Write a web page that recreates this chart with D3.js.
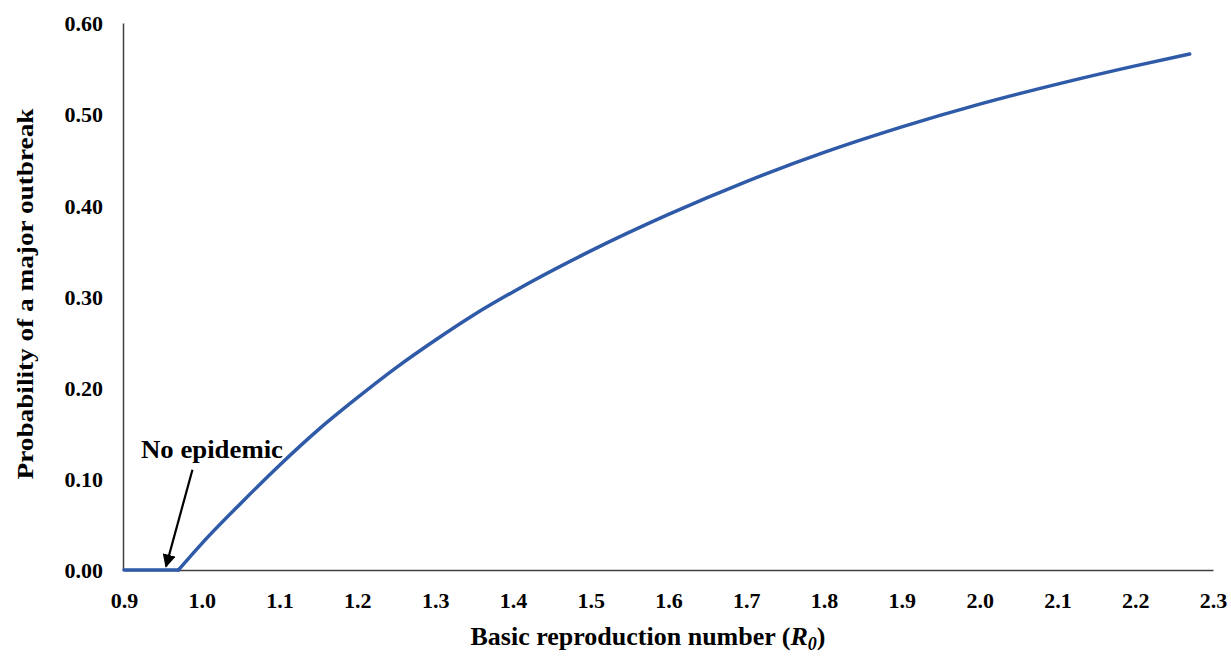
<!DOCTYPE html>
<html>
<head>
<meta charset="utf-8">
<script src="https://cdn.jsdelivr.net/npm/d3@7"></script>
<style>
  html, body { margin: 0; padding: 0; background: #fff; }
  svg { display: block; }
  text { font-family: "Liberation Serif", "Times New Roman", serif; font-weight: bold; fill: #000; }
</style>
</head>
<body>
<svg id="chart" width="1231" height="660"></svg>
<script>
// Data
const r0Values = [0.90, 0.97, 1.00, 1.05, 1.10, 1.15, 1.20, 1.25, 1.30, 1.35, 1.40, 1.50, 1.60, 1.70, 1.80, 1.90, 2.00, 2.10, 2.20, 2.27];
const probValues = [0.000, 0.000, 0.029, 0.073, 0.115, 0.154, 0.189, 0.222, 0.252, 0.280, 0.305, 0.350, 0.390, 0.426, 0.458, 0.486, 0.511, 0.533, 0.553, 0.566];
const xTicks = [0.9, 1.0, 1.1, 1.2, 1.3, 1.4, 1.5, 1.6, 1.7, 1.8, 1.9, 2.0, 2.1, 2.2, 2.3];
const yTicks = [0.00, 0.10, 0.20, 0.30, 0.40, 0.50, 0.60];
const epidemicThreshold = 0.97;
const annotation = { text: "No epidemic", fromR: 0.988, fromP: 0.110, toR: 0.954, toP: 0.004 };

const svg = d3.select("#chart");
const x = d3.scaleLinear().domain([0.9, 2.3]).range([124, 1213]);
const y = d3.scaleLinear().domain([0, 0.6]).range([570, 23]);

// Axes (no tick marks)
const xAxis = d3.axisBottom(x).tickValues(xTicks).tickFormat(d3.format(".1f")).tickSize(0).tickPadding(0);
const yAxis = d3.axisLeft(y).tickValues(yTicks).tickFormat(d3.format(".2f")).tickSize(0).tickPadding(0);

const gx = svg.append("g").attr("transform", "translate(0,570)").call(xAxis);
gx.select(".domain").attr("stroke", "#404040").attr("stroke-width", 1.5);
gx.selectAll("text").attr("dy", null).attr("y", 38).style("font-size", "22px").style("font-family", "Liberation Serif").style("font-weight", "bold").attr("fill", "#000");

const gy = svg.append("g").attr("transform", "translate(123,0)").call(yAxis);
gy.select(".domain").attr("stroke", "#404040").attr("stroke-width", 1.5);
gy.selectAll("text").attr("x", -20).attr("dy", "0.35em").style("font-size", "22px").style("font-family", "Liberation Serif").style("font-weight", "bold").attr("fill", "#000");

// Curve: flat part (no epidemic) and rising part drawn separately so the corner stays sharp
const pts = r0Values.map((r, i) => [r, probValues[i]]);
const flatPts = pts.filter(d => d[0] <= epidemicThreshold);
const risePts = pts.filter(d => d[0] >= epidemicThreshold);
const line = d3.line().x(d => x(d[0])).y(d => y(d[1])).curve(d3.curveMonotoneX);
[flatPts, risePts].forEach(seg => {
  svg.append("path").datum(seg)
    .attr("d", line)
    .attr("fill", "none")
    .attr("stroke", "#2f5aa8")
    .attr("stroke-width", 3.5)
    .attr("stroke-linecap", "round")
    .attr("stroke-linejoin", "round");
});

// Annotation
svg.append("defs").append("marker")
  .attr("id", "arrow").attr("viewBox", "0 0 10 10").attr("refX", 9).attr("refY", 5)
  .attr("markerWidth", 6).attr("markerHeight", 6).attr("orient", "auto-start-reverse")
  .append("path").attr("d", "M0,0 L10,5 L0,10 z").attr("fill", "#000");
svg.append("line")
  .attr("x1", x(annotation.fromR)).attr("y1", y(annotation.fromP))
  .attr("x2", x(annotation.toR)).attr("y2", y(annotation.toP))
  .attr("stroke", "#000").attr("stroke-width", 2.2)
  .attr("marker-end", "url(#arrow)");
svg.append("text")
  .attr("x", 141).attr("y", 458)
  .style("font-size", "25px")
  .attr("textLength", 142).attr("lengthAdjust", "spacingAndGlyphs")
  .text(annotation.text);

// Axis titles
svg.append("text")
  .attr("transform", "translate(33,294) rotate(-90)")
  .attr("text-anchor", "middle")
  .style("font-size", "24px")
  .attr("textLength", 371).attr("lengthAdjust", "spacingAndGlyphs")
  .text("Probability of a major outbreak");

const xt = svg.append("text")
  .attr("x", 648).attr("y", 645)
  .attr("text-anchor", "middle")
  .style("font-size", "26px");
xt.append("tspan").text("Basic reproduction number (");
xt.append("tspan").attr("font-style", "italic").text("R");
xt.append("tspan").attr("font-style", "italic").attr("dy", 5).style("font-size", "18px").text("0");
xt.append("tspan").attr("dy", -5).text(")");
</script>
</body>
</html>
